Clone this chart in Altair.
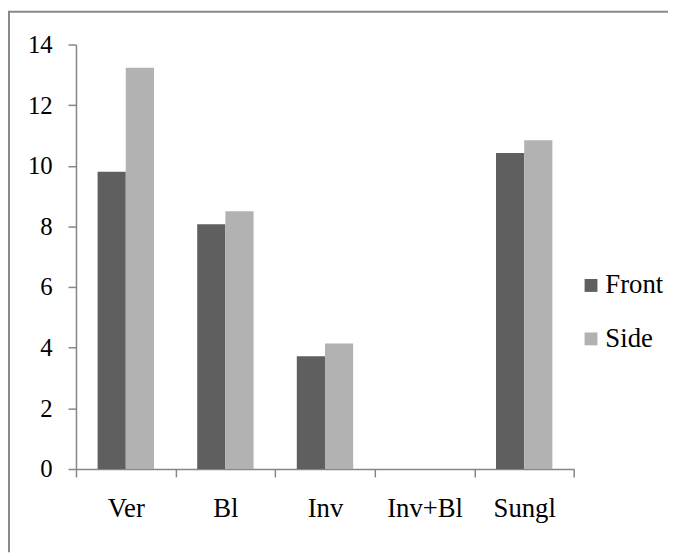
import altair as alt
import pandas as pd

categories = ["Ver", "Bl", "Inv", "Inv+Bl", "Sungl"]
front = [9.8, 8.07, 3.72, 0.0, 10.42]
side = [13.23, 8.5, 4.14, 0.0, 10.84]
series = ["Front", "Side"]
colors = ["#5f5f5f", "#b2b2b2"]

rows = []
for c, f, s in zip(categories, front, side):
    rows.append({"cat": c, "series": "Front", "value": f})
    rows.append({"cat": c, "series": "Side", "value": s})
df = pd.DataFrame(rows)

FONT = "'Liberation Serif', 'Times New Roman', Times, serif"
W, H = 503.3, 429

bars = alt.Chart(df).mark_bar().encode(
    x=alt.X("cat:N", sort=categories,
            scale=alt.Scale(paddingInner=0, paddingOuter=0),
            axis=alt.Axis(title=None, labelAngle=0, tickBand="extent",
                          tickSize=8, labelPadding=19, labelFontSize=27,
                          labelFont=FONT, labelColor="#000000",
                          domainColor="#868686", tickColor="#868686",
                          domainWidth=1.5, tickWidth=1.5)),
    xOffset=alt.XOffset("series:N", sort=series,
                        scale=alt.Scale(paddingOuter=0.767, paddingInner=0)),
    y=alt.Y("value:Q", scale=alt.Scale(domain=[0, 14], nice=False),
            axis=alt.Axis(title=None, values=[0, 2, 4, 6, 8, 10, 12, 14],
                          grid=False, tickSize=8, labelPadding=16,
                          labelFontSize=25, labelFont=FONT,
                          labelColor="#000000", domainColor="#868686",
                          tickColor="#868686", domainWidth=1.5, tickWidth=1.5)),
    color=alt.Color("series:N", sort=series,
                    scale=alt.Scale(domain=series, range=colors),
                    legend=alt.Legend(title=None, orient="none",
                                      legendX=507, legendY=230,
                                      symbolType="square", symbolSize=169,
                                      symbolStrokeWidth=0, symbolOpacity=1,
                                      labelFontSize=27, labelFont=FONT,
                                      labelColor="#000000", labelOffset=1,
                                      rowPadding=26)),
)

border = pd.DataFrame({"k": [0]})
top_line = alt.Chart(border).mark_rule(color="#8a8a8a", strokeWidth=2).encode(
    x=alt.value(-67.7), x2=alt.value(599), y=alt.value(-33),
)
left_line = alt.Chart(border).mark_rule(color="#8a8a8a", strokeWidth=2).encode(
    x=alt.value(-67.7), y=alt.value(-34), y2=alt.value(513),
)

chart = alt.layer(top_line, left_line, bars).properties(
    width=W, height=H,
    autosize=alt.AutoSizeParams(type="none"),
    padding={"left": 68.7, "top": 34, "right": 95, "bottom": 84},
    background="#ffffff",
).configure_view(strokeWidth=0, stroke="transparent")

chart.save("out.html", embed_options={"renderer": "svg", "actions": False})
